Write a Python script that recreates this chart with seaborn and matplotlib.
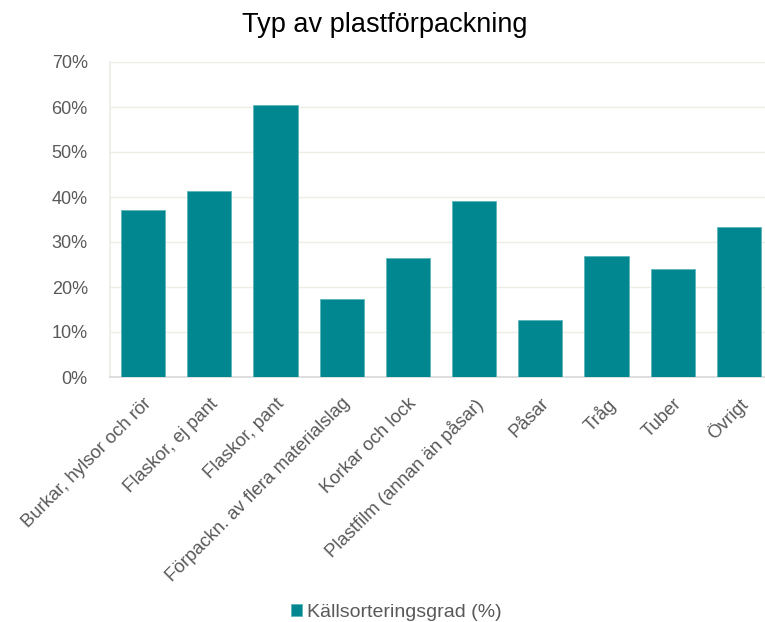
import matplotlib
matplotlib.use("Agg")
import matplotlib.pyplot as plt
import seaborn as sns
import pandas as pd
from matplotlib.ticker import PercentFormatter

categories = ["Burkar, hylsor och rör", "Flaskor, ej pant", "Flaskor, pant",
              "Förpackn. av flera materialslag", "Korkar och lock",
              "Plastfilm (annan än påsar)", "Påsar", "Tråg", "Tuber", "Övrigt"]
values = [0.372, 0.413, 0.604, 0.174, 0.264, 0.391, 0.126, 0.268, 0.239, 0.334]
series_name = "Källsorteringsgrad (%)"
title = "Typ av plastförpackning"
yticks = [0.0, 0.1, 0.2, 0.3, 0.4, 0.5, 0.6, 0.7]

sns.set_theme(style="white")
plt.rcParams['font.family'] = ['Liberation Sans', 'DejaVu Sans']

df = pd.DataFrame({"cat": categories, "val": values})

fig = plt.figure(figsize=(7.65, 6.22), dpi=100)
ax = fig.add_axes([110/765, 1-377/622, 1-110/765, (377-62)/622])

sns.barplot(data=df, x="cat", y="val", color="#01878F", width=0.67,
            saturation=1, edgecolor="#5DB6BC", linewidth=0.6,
            label=series_name, ax=ax, zorder=3)

ax.set_ylim(0, 0.7)
ax.set_yticks(yticks)
ax.yaxis.set_major_formatter(PercentFormatter(1.0, decimals=0))
ax.set_xlim(-0.5, -0.5 + (765-110)/66.2)
ax.set_xlabel("")
ax.set_ylabel("")
ax.grid(axis="y", color="#EDEDE6", linewidth=1, zorder=0)
for s in ["top", "right"]:
    ax.spines[s].set_visible(False)
ax.spines["left"].set_color("#EDEDE6")
ax.spines["bottom"].set_color("#D9D9D9")
ax.tick_params(axis="y", labelsize=13, labelcolor="#595959", length=0, pad=16)
ax.tick_params(axis="x", labelsize=13.3, labelcolor="#595959", length=0, pad=13)
plt.setp(ax.get_xticklabels(), rotation=45, ha="right", rotation_mode="anchor")

fig.text(0.503, 0.96, title, fontsize=19.5, ha="center", va="center", color="#000000")

ax.legend(loc="center", frameon=False, fontsize=14,
          labelcolor="#595959", handlelength=0.55, handleheight=0.55, handletextpad=0.25)
leg = ax.get_legend()
leg.set_bbox_to_anchor((0.518, 0.016), transform=fig.transFigure)

fig.savefig("out.png", dpi=100)
